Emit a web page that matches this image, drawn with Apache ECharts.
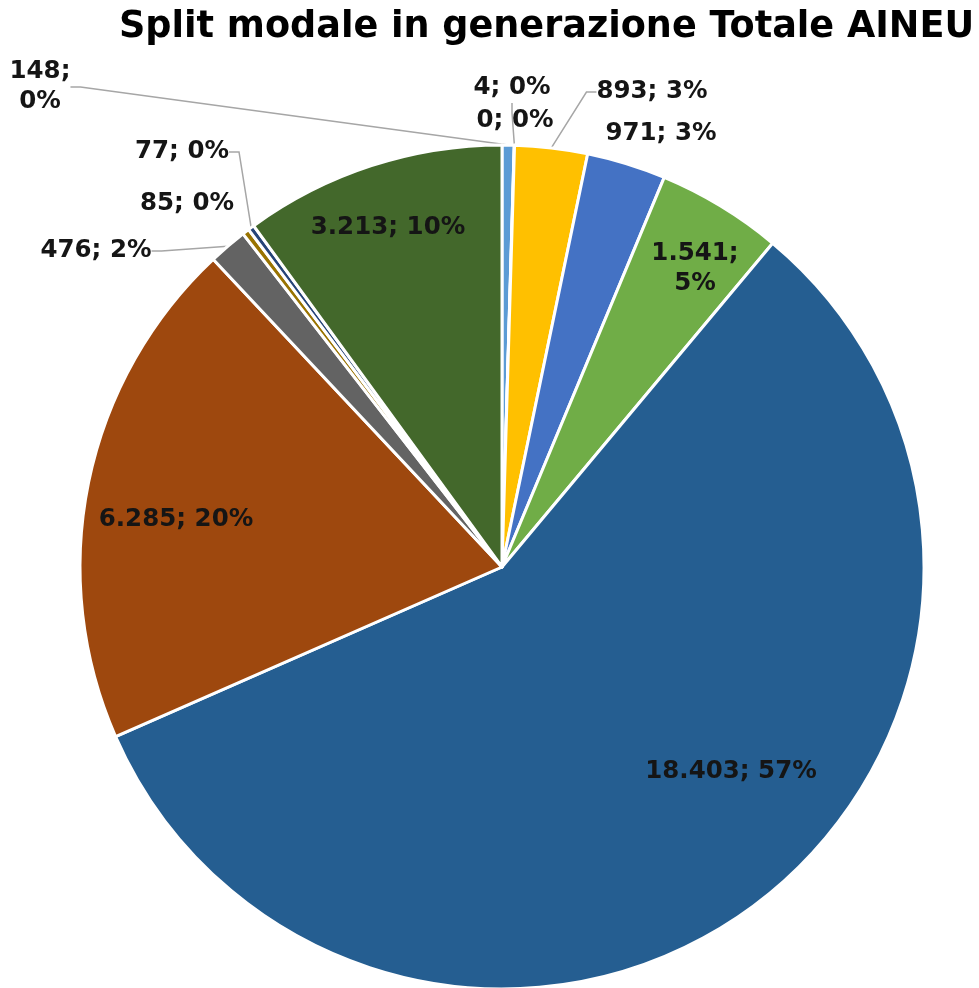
<!DOCTYPE html>
<html>
<head>
<meta charset="utf-8">
<script src="https://cdn.jsdelivr.net/npm/echarts@6/dist/echarts.min.js"></script>
<style>
  html, body { margin: 0; padding: 0; background: #fff; }
  #chart { width: 979px; height: 988px; }
</style>
</head>
<body>
<div id="chart"></div>
<script>
// slices clockwise from 12 o'clock
const categories = ['Modo 1', 'Modo 2', 'Modo 3', 'Modo 4', 'Modo 5', 'Modo 6',
  'Modo 7', 'Modo 8', 'Modo 9', 'Modo 10', 'Modo 11', 'Modo 12']
const values = [148, 4, 0, 893, 971, 1541, 18403, 6285, 476, 85, 77, 3213]
const colors = ['#5b9bd5', '#ed7d31', '#a5a5a5', '#ffc000', '#4472c4', '#70ad47',
  '#255e91', '#9e480e', '#636363', '#997300', '#264478', '#43682b']

// label placement (px, label centre)
const labelPos = {
  0: [40, 87],
  1: [512, 88],
  2: [515, 121],
  3: [652, 92],
  4: [661, 134],
  5: [695, 269],
  6: [731, 772],
  7: [176, 520],
  8: [96, 251],
  9: [187, 204],
  10: [182, 152],
  11: [388, 228]
}
const insideIdx = [5, 6, 7, 11]
const noLineIdx = [2, 4, 9]
const wrapIdx = [0, 5]

const fmt = v => String(v).replace(/\B(?=(\d{3})+(?!\d))/g, '.')

const chart = echarts.init(document.getElementById('chart'))

const data = values.map((v, i) => {
  const item = { name: categories[i], value: v, itemStyle: { color: colors[i] } }
  if (insideIdx.includes(i)) {
    item.label = { position: 'inside' }
    item.labelLine = { show: false }
  } else if (noLineIdx.includes(i)) {
    item.labelLine = { show: false }
  }
  return item
})

chart.setOption({
  animation: false,
  title: {
    text: 'Split modale in generazione Totale AINEU',
    left: 114,
    top: 4,
    textStyle: {
      fontFamily: 'DejaVu Sans',
      fontWeight: 'bold',
      fontSize: 36.6,
      color: '#000'
    }
  },
  series: [{
    type: 'pie',
    center: [502, 567],
    radius: [0, 422],
    startAngle: 90,
    clockwise: true,
    percentPrecision: 0,
    avoidLabelOverlap: false,
    itemStyle: { borderColor: '#fff', borderWidth: 3 },
    label: {
      show: true,
      position: 'outside',
      fontFamily: 'DejaVu Sans',
      fontWeight: 'bold',
      fontSize: 24.5,
      lineHeight: 30,
      color: '#151515',
      formatter: p => fmt(p.value) + (wrapIdx.includes(p.dataIndex) ? ';\n' : '; ') + p.percent + '%'
    },
    labelLine: {
      show: true,
      length: 10,
      length2: 10,
      smooth: false,
      lineStyle: { color: '#a6a6a6', width: 1.5 }
    },
    labelLayout: params => {
      const p = labelPos[params.dataIndex]
      if (!p) return {}
      return { x: p[0], y: p[1], align: 'center', verticalAlign: 'middle' }
    },
    emphasis: { disabled: true },
    data: data
  }]
})
</script>
</body>
</html>
